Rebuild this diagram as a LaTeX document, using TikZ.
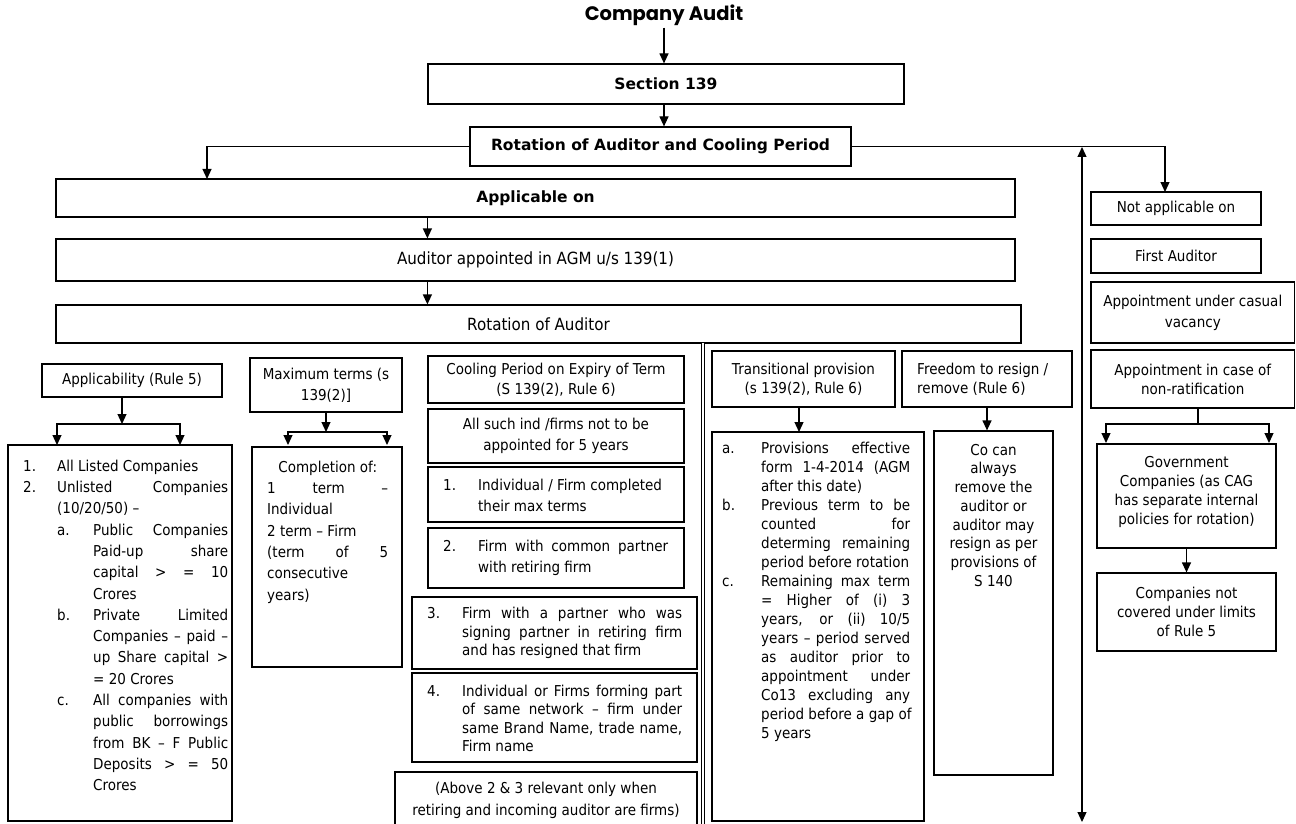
\documentclass[tikz,border=0pt]{standalone}
\usepackage{fontspec}
\setmainfont{DejaVu Sans}[FakeStretch=0.9]
\newfontfamily\hdfont{DejaVu Sans}
\newfontfamily\ttlfont{Poppins}
\usetikzlibrary{arrows.meta,fit}

% font sizes (1pt = 1 unit of the drawing)
\newcommand\fs[1]{\fontsize{15}{#1}\selectfont}
\newcommand\fsbig{\fontsize{16.8}{20}\selectfont}
\newcommand\hdfs{\hdfont\bfseries\fontsize{15.5}{18}\selectfont}
\newcommand\ttlfs{\ttlfont\bfseries\fontsize{19.5}{23}\selectfont}

% list helpers: item label, fully justified line, indent
\newcommand\ilab[2]{\makebox[#1][l]{#2}}
\newcommand\jline[2]{\makebox[#1][s]{#2}}
\newcommand\ind[1]{\hspace*{#1}}
\newcommand\topstrut{\rule{0pt}{12pt}}

% framed box from corner to corner
\newcommand\frm[5]{\node[frame, fit={(#2,#3) (#4,#5)}] (#1) {};}

\tikzset{
  frame/.style={draw, line width=1.2pt, inner sep=0pt},
  conn/.style={line width=1.2pt},
  arr/.style={conn, -{Triangle[length=10pt,width=9pt]}},
  darr/.style={conn, {Triangle[length=10pt,width=9pt]}-{Triangle[length=10pt,width=9pt]}},
  txt/.style={inner sep=0pt, align=center, font=\fs{19}},
  ltxt/.style={inner sep=0pt, align=left, font=\fs{19}},
  hdtxt/.style={inner sep=0pt, font=\hdfs},
  bigtxt/.style={inner sep=0pt, font=\fsbig},
  ttl/.style={inner sep=2pt, font=\ttlfs},
}

\begin{document}
\begin{tikzpicture}[x=1pt,y=-1pt]
\useasboundingbox (0,0) rectangle (1296,824);

% ---------- main spine ----------
\node[ttl] (title) at (664,15) {Company Audit};
\frm{sec}{428}{64}{904}{104}
\node[hdtxt] (sec-t) at (sec.center) {Section 139};
\frm{rot}{470}{127}{851}{166}
\node[hdtxt] (rot-t) at (rot.center) {Rotation of Auditor and Cooling Period};
\draw[arr] (title.south) -- (title.south |- sec.north);
\draw[arr] (sec.south -| title.south) -- (rot.north -| title.south);

% ---------- applicable branch ----------
\frm{app}{56}{179}{1015}{217}
\node[hdtxt] (app-t) at (app.center) {Applicable on};
\coordinate (appIn) at (207,179);
\draw[arr] (rot.west) -| (appIn);

\frm{aud}{56}{239}{1015}{281}
\node[bigtxt] (aud-t) at (aud.center) {Auditor appointed in AGM u/s 139(1)};
\draw[arr] (app.south -| sec.west) -- (aud.north -| sec.west);

\frm{rr}{56}{305}{1021}{343}
\node[bigtxt] (rr-t) at (rr.center) {Rotation of Auditor};
\draw[arr] (aud.south -| sec.west) -- (rr.north -| sec.west);

% separator between cooling period and transitional provision
\coordinate (sepTop) at (703,343);
\coordinate (sepBot) at (703,826);
\draw[line width=1pt, double, double distance=2pt] (sepTop) -- (sepBot);

% ---------- applicability (rule 5) ----------
\frm{a5}{42}{364}{222}{397}
\node[txt] (a5-t) at (a5.center) {Applicability (Rule 5)};
\coordinate (a5fork) at (122,424);
\coordinate (a5l) at (57,445);
\coordinate (a5r) at (180,445);
\draw[arr] (a5.south -| a5fork) -- (a5fork);
\draw[arr] (a5fork) -| (a5l);
\draw[arr] (a5fork) -| (a5r);
\frm{a5d}{8}{445}{232}{821}
\node[ltxt, anchor=north west, font=\fs{21.3}] (a5d-t) at (23,459) {%
\topstrut\ilab{34pt}{1.}All Listed Companies\\
\ilab{34pt}{2.}\jline{171pt}{Unlisted Companies}\\
\ind{34pt}(10/20/50) –\\
\ind{34pt}\ilab{36pt}{a.}\jline{135pt}{Public Companies}\\
\ind{70pt}\jline{135pt}{Paid-up share}\\
\ind{70pt}\jline{135pt}{capital > = 10}\\
\ind{70pt}Crores\\
\ind{34pt}\ilab{36pt}{b.}\jline{135pt}{Private Limited}\\
\ind{70pt}\jline{135pt}{Companies – paid –}\\
\ind{70pt}\jline{135pt}{up Share capital >}\\
\ind{70pt}= 20 Crores\\
\ind{34pt}\ilab{36pt}{c.}\jline{135pt}{All companies with}\\
\ind{70pt}\jline{135pt}{public borrowings}\\
\ind{70pt}\jline{135pt}{from BK – F Public}\\
\ind{70pt}\jline{135pt}{Deposits > = 50}\\
\ind{70pt}Crores};

% ---------- maximum terms ----------
\frm{mt}{250}{358}{402}{412}
\node[txt, font=\fs{21}] (mt-t) at (mt.center) {Maximum terms (s\\139(2)]};
\coordinate (mtfork) at (326,432);
\coordinate (mtl) at (288,445);
\coordinate (mtr) at (387,445);
\draw[arr] (mt.south) -- (mtfork);
\draw[arr] (mtfork) -| (mtl);
\draw[arr] (mtfork) -| (mtr);
\frm{mtd}{252}{447}{402}{667}
\node[ltxt, anchor=north west, font=\fs{21.3}] (mtd-t) at (267,460) {%
\topstrut\makebox[121pt][c]{Completion of:}\\
\jline{121pt}{1 term –}\\
Individual\\
2 term – Firm\\
\jline{121pt}{(term of 5}\\
consecutive\\
years)};

% ---------- cooling period ----------
\frm{cp}{428}{356}{684}{403}
\node[txt, font=\fs{20}] (cp-t) at (cp.center) {Cooling Period on Expiry of Term\\(S 139(2), Rule 6)};
\frm{cp0}{428}{409}{684}{463}
\node[txt, font=\fs{21.5}] (cp0-t) at (cp0.center) {All such ind /firms not to be\\appointed for 5 years};
\frm{cp1}{428}{467}{684}{522}
\node[ltxt, anchor=west, font=\fs{20.7}] (cp1-t) at (443,495.5) {%
\ilab{35pt}{1.}Individual / Firm completed\\
\ind{35pt}their max terms};
\frm{cp2}{428}{528}{684}{588}
\node[ltxt, anchor=west, font=\fs{21}] (cp2-t) at (443,558) {%
\ilab{35pt}{2.}\jline{190pt}{Firm with common partner}\\
\ind{35pt}with retiring firm};
\frm{cp3}{412}{597}{697}{669}
\node[ltxt, anchor=west, font=\fs{18.3}] (cp3-t) at (427,633) {%
\ilab{35pt}{3.}\jline{220pt}{Firm with a partner who was}\\
\ind{35pt}\jline{220pt}{signing partner in retiring firm}\\
\ind{35pt}and has resigned that firm};
\frm{cp4}{412}{673}{697}{762}
\node[ltxt, anchor=west, font=\fs{18.3}] (cp4-t) at (427,718.5) {%
\ilab{35pt}{4.}\jline{220pt}{Individual or Firms forming part}\\
\ind{35pt}\jline{220pt}{of same network – firm under}\\
\ind{35pt}\jline{220pt}{same Brand Name, trade name,}\\
\ind{35pt}Firm name};
\frm{cpn}{395}{772}{697}{830}
\node[txt, font=\fs{22}] (cpn-t) at (546,800.5) {(Above 2 \& 3 relevant only when\\retiring and incoming auditor are firms)};

% ---------- transitional provision ----------
\frm{tp}{712}{351}{895}{407}
\node[txt, font=\fs{19}] (tp-t) at (tp.center) {Transitional provision\\(s 139(2), Rule 6)};
\frm{tpd}{712}{432}{924}{821}
\coordinate (tpIn) at (799,432);
\draw[arr] (tp.south -| tpIn) -- (tpIn);
\node[ltxt, anchor=north west, font=\fs{19}] (tpd-t) at (722,441) {%
\topstrut\ilab{39pt}{a.}\jline{149pt}{Provisions effective}\\
\ind{39pt}\jline{149pt}{form 1-4-2014 (AGM}\\
\ind{39pt}after this date)\\
\ilab{39pt}{b.}\jline{149pt}{Previous term to be}\\
\ind{39pt}\jline{149pt}{counted for}\\
\ind{39pt}\jline{149pt}{determing remaining}\\
\ind{39pt}period before rotation\\
\ilab{39pt}{c.}\jline{149pt}{Remaining max term}\\
\ind{39pt}\jline{149pt}{= Higher of (i) 3}\\
\ind{39pt}\jline{149pt}{years, or (ii) 10/5}\\
\ind{39pt}\jline{149pt}{years – period served}\\
\ind{39pt}\jline{149pt}{as auditor prior to}\\
\ind{39pt}\jline{149pt}{appointment under}\\
\ind{39pt}\jline{149pt}{Co13 excluding any}\\
\ind{39pt}period before a gap of\\
\ind{39pt}5 years};

% ---------- freedom to resign ----------
\frm{fr}{902}{351}{1072}{407}
\node[ltxt, anchor=west, font=\fs{19}] (fr-t) at (917,379) {Freedom to resign /\\remove (Rule 6)};
\frm{frd}{934}{431}{1053}{775}
\draw[arr] (fr.south) -- (fr.south |- frd.north);
\node[txt, anchor=north, font=\fs{18.7}] (frd-t) at (993.5,443) {%
\topstrut Co can\\always\\remove the\\auditor or\\auditor may\\resign as per\\provisions of\\S 140};

% ---------- not applicable branch ----------
\coordinate (naIn) at (1165,192);
\draw[arr] (rot.east) -| (naIn);
\coordinate (vTop) at (1082,147);
\coordinate (vBot) at (1082,822);
\draw[darr] (vTop) -- (vBot);

\frm{na}{1091}{192}{1261}{225}
\node[txt] (na-t) at (na.center) {Not applicable on};
\frm{fa}{1091}{239}{1261}{273}
\node[txt] (fa-t) at (fa.center) {First Auditor};
\frm{cv}{1091}{282}{1294.5}{343}
\node[txt, font=\fs{21}] (cv-t) at (cv.center) {Appointment under casual\\vacancy};
\frm{nr}{1091}{350}{1294.5}{408}
\node[txt, font=\fs{19}] (nr-t) at (nr.center) {Appointment in case of\\non-ratification};
\coordinate (nrfork) at (1198,424);
\coordinate (nrl) at (1106,443);
\coordinate (nrr) at (1269,443);
\draw[conn] (nr.south -| nrfork) -- (nrfork);
\draw[arr] (nrfork) -| (nrl);
\draw[arr] (nrfork) -| (nrr);
\frm{gov}{1097}{444}{1276}{548}
\node[txt, font=\fs{19}] (gov-t) at (1186.5,492) {Government\\Companies (as CAG\\has separate internal\\policies for rotation)};
\frm{cnc}{1097}{573}{1276}{651}
\node[txt, font=\fs{19}] (cnc-t) at (cnc.center) {Companies not\\covered under limits\\of Rule 5};
\draw[arr] (gov.south) -- (cnc.north);
\end{tikzpicture}
\end{document}
